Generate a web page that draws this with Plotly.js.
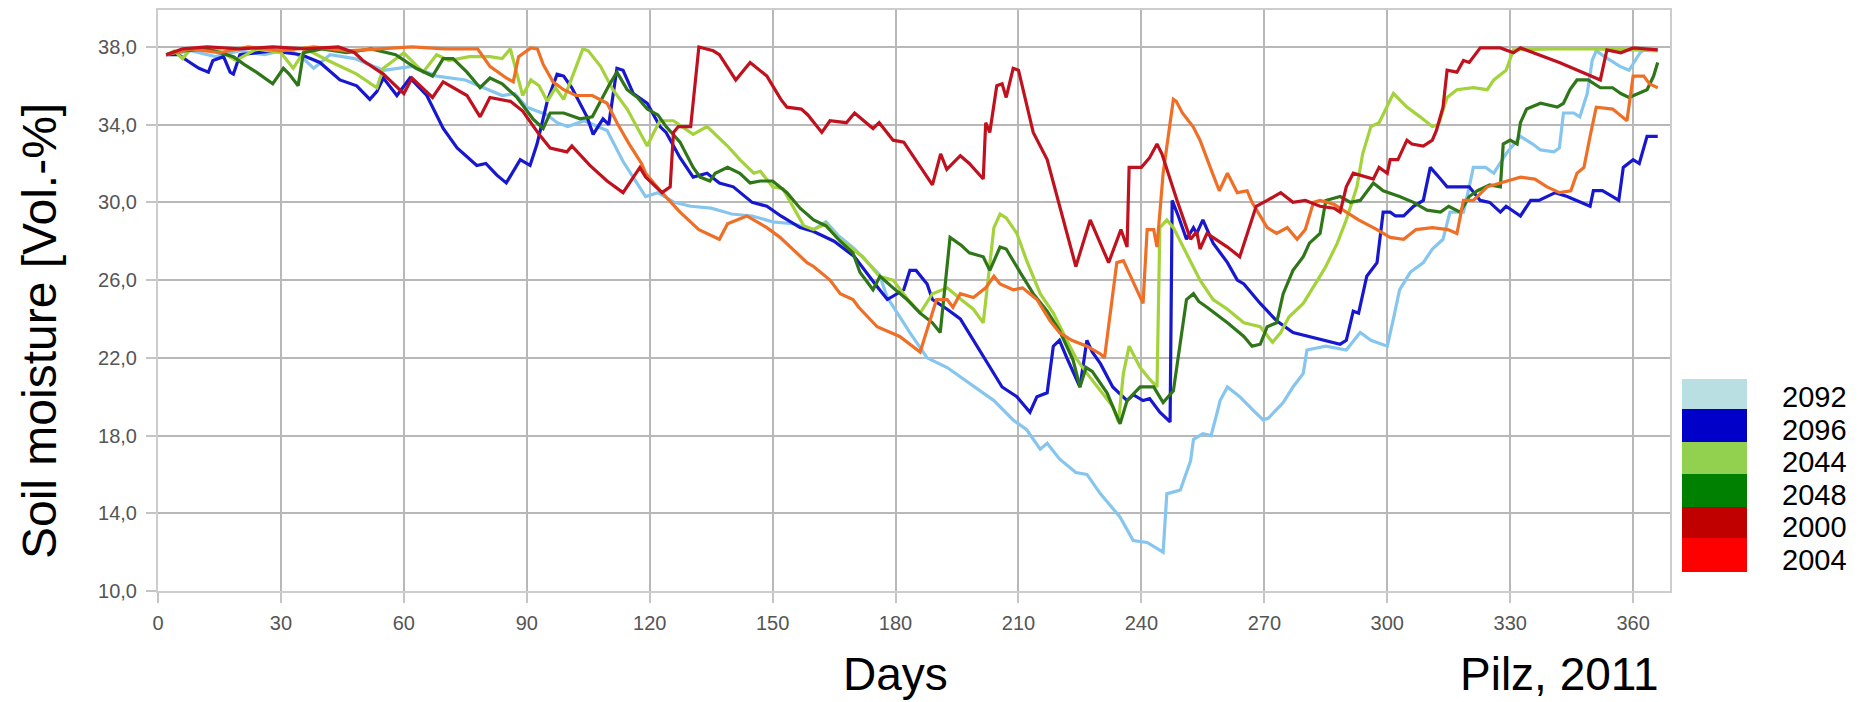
<!DOCTYPE html>
<html>
<head>
<meta charset="utf-8">
<script src="https://cdn.plot.ly/plotly-3.0.1.min.js"></script>
<style>html,body{margin:0;padding:0;background:#fff;}#chart{width:1872px;height:702px;}</style>
</head>
<body>
<div id="chart"></div>
<script>
// ---------- DATA ----------
const seriesNames = ['2092', '2096', '2044', '2048', '2000', '2004'];
const xTickVals = [0, 30, 60, 90, 120, 150, 180, 210, 240, 270, 300, 330, 360];
const yTickVals = [10, 14, 18, 22, 26, 30, 34, 38];

const days2092 = [2,8,14,20,26,32,36,38,42,48,55,62,68,75,84,87,90,95,97.4,100,104,109.6,113.5,117.6,119,122,126,130,135,140,145,150,155,160,163,166,170,176,178,183.5,187.7,192.6,198,204,208.7,212,215.3,217,220,224,226.7,230,234.8,238,241.4,243,245.3,246.2,249.5,252,252.7,255,257,258.5,259.2,261,264,267.3,269.7,271,274.6,277,279.5,280.4,285,290,292,293.4,296,300,301.5,303,305.6,308.8,311,313.6,315.3,318.6,320,321,324,326,329,332.5,335.5,337.4,340.7,342,343,345.5,347,348.8,350,351,353,356.8,359,361.7,363,366];
const sm2092 = [37.6,37.8,37.5,37.8,37.6,37.9,37.3,36.9,37.6,37.4,36.8,37.0,36.5,36.3,35.5,35.6,34.9,34.5,34.1,33.9,34.2,33.7,32.1,30.8,30.3,30.5,30.0,29.8,29.7,29.4,29.3,29.0,28.9,28.6,29.0,28.3,27.6,26.3,25.1,23.3,22.0,21.5,20.7,19.8,18.8,18.3,17.3,17.6,16.8,16.1,16.0,15.0,13.8,12.6,12.5,12.3,12.0,15.0,15.2,16.7,17.8,18.1,18.0,19.2,19.8,20.5,20.0,19.3,18.8,18.9,19.7,20.5,21.2,22.4,22.6,22.4,22.9,23.3,22.9,22.6,24.0,25.5,26.4,26.9,27.6,28.1,29.5,29.5,30.8,31.8,31.8,31.5,32.5,33.4,33.0,32.7,32.6,32.8,34.6,34.6,34.4,35.6,37.3,37.8,37.5,37.0,36.8,37.7,37.9,37.9];

const days2096 = [2,5,7.8,10,12.3,13.4,16,17.6,18.4,20,28,35,39.5,44.4,48.5,51.7,53.4,55,58.3,61.5,65.6,69.6,73,77.8,80,82.7,85,88.4,90.8,92.5,95,97.4,99,101,104.7,106.2,108.6,110,112,113.5,116,119.4,122.5,124,127.4,130.6,134,137,140.4,145,148.6,152,156.7,160,165,170,175,178,182,183.5,185,187.7,189,192.6,195.8,199,202,206,209.6,212.8,214.5,217,218.5,220,221.8,225,226.7,228,230,233,236.5,238,240.4,242,244.5,247,247.5,249,251,252.7,253.5,255,257.5,261,263.4,265,269,273,277,281,285,288.5,290,291.7,293,295,297.5,299,300.7,302,304,306.4,308.8,310.5,313,314.6,317.8,320,322.7,325,327.6,329,332.5,335,337,339,341,343.9,346.3,349.5,350.3,352.5,355,356.5,357.6,360,361.5,363.4,366];
const sm2096 = [37.6,37.6,37.2,36.9,36.7,37.3,37.5,36.7,36.6,37.6,37.8,37.6,37.2,36.3,36.0,35.3,35.7,36.4,35.5,36.4,35.5,33.8,32.8,31.9,32.0,31.4,31.0,32.2,31.9,33.0,35.2,36.6,36.5,35.9,34.4,33.5,34.3,34.0,36.9,36.8,35.6,35.1,33.9,33.6,32.3,31.3,31.5,31.0,30.8,30.0,29.8,29.3,28.7,28.5,28.0,27.2,25.8,25.0,25.5,26.5,26.5,25.8,25.0,24.5,24.0,22.9,21.9,20.5,20.0,19.2,20.0,20.2,22.6,22.9,22.0,20.5,22.9,22.3,21.7,20.5,19.8,20.1,19.8,19.9,19.2,18.7,30.1,29.3,28.1,28.7,28.4,29.1,27.9,26.9,26.0,25.8,24.8,23.9,23.3,23.1,22.9,22.7,22.9,24.4,24.3,26.2,26.9,29.5,29.5,29.3,29.3,29.8,30.1,31.8,31.2,30.8,30.8,30.8,30.1,30.0,29.5,29.8,29.3,30.1,30.1,30.3,30.5,30.3,30.1,29.8,30.6,30.6,30.3,30.1,31.8,32.2,32.0,33.4,33.4];

const days2044 = [2,4,6,8,15,19,24,30,33,36,41.5,43.6,48.5,53.4,55,60,64.7,68,71,76,81,84,86,89,91,93,95,97,99,103.7,105,108,111,114.5,117.6,119.4,121,122.5,125.8,129,130.6,134,139,142,145.4,147,150,152.5,155,157.6,160,163,165.6,169.6,172,176,179.4,183,186,189,192.6,196,199,201.4,203,204,205.5,207,209.6,212,215.3,218.5,221.8,224,226.7,230,233,234.4,235.6,237,239.7,242,243.8,244.5,246.2,247.8,251,254.3,257.5,261,265,269,272,274,276,279.5,283,285,287.8,290,292.6,294,296,298,301.5,304.8,308,311,312.5,314.6,317,321,324.4,326,329,330.8,340,350,360,366];
const sm2044 = [37.6,37.8,37.4,37.9,37.8,37.3,37.9,37.7,36.9,37.9,37.3,37.1,36.6,35.9,36.9,37.7,36.7,37.6,37.3,37.5,37.5,37.4,37.9,35.5,36.3,36.0,35.2,35.9,35.3,37.9,37.8,37.0,35.8,34.8,33.6,32.9,33.6,34.2,34.2,33.7,33.5,33.9,32.9,32.2,31.5,31.6,30.8,30.7,29.8,28.8,28.6,28.9,28.2,27.6,27.2,26.2,26.0,25.0,24.3,25.3,25.6,25.0,24.5,23.8,26.7,28.7,29.4,29.2,28.4,27.0,25.3,24.3,22.9,22.0,21.2,20.3,19.5,18.7,21.2,22.6,21.5,20.9,20.5,28.7,29.1,28.7,27.4,26.0,25.0,24.5,23.8,23.6,22.8,23.3,24.1,24.8,26.0,26.7,27.9,29.1,30.8,32.5,33.9,34.1,35.6,34.9,34.4,33.9,34.0,35.4,35.8,35.9,35.8,36.3,36.8,37.85,37.9,37.9,37.85,37.8];

const days2048 = [2,6,12,18.4,21,24,28,30.6,32,34.2,35.5,40,46,52,58,63,67,69.6,72,75.4,78.6,81,84,87.6,91.5,94,95.7,99,103,106,110,112,114.5,117,119.4,122,124,127.4,130.6,132.3,134.7,136,139,142,144.5,147,150,153.5,156.7,160,163,166.5,169.6,171.3,174.5,176.2,179.4,182.8,186,189,190.9,193.3,196,198,201.4,203,205.5,207,210.4,213.6,217,220,223.3,225,226.5,228,231.6,234.8,236.5,239.7,243,245.3,247.8,249.5,251,252.7,254,256,261,265,267,269,270.7,273,274.6,277,279.5,281,283.6,285,288.5,291,293.4,296.6,299,303,306.4,309.7,313,315,317.8,320,322,325,327.6,328.3,330,331.7,332.5,334,337.4,341.5,343,344.6,346.3,349,352,355,357,359,361,363.4,365,366];
const sm2048 = [37.6,37.8,37.9,37.5,37.1,36.7,36.1,36.9,36.6,36.0,37.7,37.9,37.7,37.9,37.6,36.9,36.5,37.4,37.4,36.7,35.9,36.4,36.1,35.4,34.3,33.8,34.6,34.6,34.3,34.4,36.0,36.7,35.8,35.4,34.8,34.5,33.9,33.1,31.8,31.3,31.1,31.5,31.8,31.5,31.0,31.1,31.1,30.5,29.7,29.1,28.8,28.0,27.4,26.4,25.5,26.2,25.6,25.0,24.3,23.8,23.3,28.2,27.8,27.4,27.2,26.5,27.7,27.6,26.4,25.3,24.4,23.4,21.9,20.5,21.5,21.3,20.2,18.6,19.8,20.5,20.5,19.7,20.3,22.9,25.0,25.3,24.9,24.6,23.8,23.1,22.6,22.7,23.6,23.8,25.3,26.5,27.2,27.9,28.4,30.1,30.3,30.0,30.1,31.0,30.6,30.3,30.0,29.6,29.5,29.8,29.5,30.3,30.6,30.9,30.8,33.0,33.2,33.0,34.1,34.8,35.1,34.9,35.1,35.8,36.3,36.3,35.9,35.9,35.6,35.4,35.6,35.8,36.5,37.2];

const days2000 = [2,6,12,20,28,36,44,48,50,55,60,62,67,69.6,75.4,78.6,81,86,89,93,95.7,99.8,101,105.4,109.6,112,113.5,117.6,119,123,125,125.8,127,130,132,135.5,137,141,144.5,148.6,152,153.5,157,158.6,162,164,168,170,174.5,176,179.4,182,189,191,192.5,195.8,198,201.4,202,203,204.7,206,207,208.7,210,213.6,217,224,227.5,232,235,236.5,237,240,242,243.8,245,248.7,252,253.5,254.3,256,261,264,265.8,268,270.7,274,277,280,283.6,287,288.5,290,291.7,295,296.6,298,300,300.7,302.6,304.8,306,308.8,311,312,313.6,314.6,317,318.6,320,322.7,327.6,330.8,332.5,342,352,353.6,357,360,366];
const sm2000 = [37.6,37.9,38.0,37.9,38.0,37.9,38.0,37.7,37.3,36.6,35.6,36.4,35.4,36.2,35.5,34.4,35.4,35.2,34.7,33.5,32.8,32.6,32.9,31.9,31.1,30.7,30.5,31.8,31.3,30.5,30.8,33.6,33.9,33.9,38.0,37.8,37.6,36.3,37.2,36.5,35.3,34.9,34.8,34.5,33.6,34.2,34.1,34.6,33.8,34.1,33.2,33.1,30.9,32.5,31.7,32.4,32.0,31.2,34.1,33.6,36.0,36.1,35.4,36.9,36.8,33.6,32.2,26.7,29.1,26.9,28.6,27.7,31.8,31.8,32.3,33.0,32.5,30.1,28.1,28.5,27.6,28.4,27.7,27.2,28.4,29.8,30.1,30.5,30.0,30.1,29.8,29.7,29.5,30.8,31.5,31.3,31.2,31.8,31.5,32.2,32.2,33.2,33.0,32.9,33.2,33.7,34.9,36.8,36.7,37.3,37.2,37.95,37.95,37.7,37.95,37.2,36.3,37.85,37.7,37.95,37.85];

const days2004 = [2,8,15,22,30,38,46,54,62,70,78,81,85,86.7,88,91,92.6,94,96.4,99,102,106,109.6,112,115,118,119,123,127.4,132,137,139,143.7,148.6,151.8,158.4,160,164,166.5,169.6,171,175.5,181,186,190,192.6,194,195.8,199,202,204,205.5,208.7,211,214.5,217.7,220,223,226.7,230,231,234,235.6,240.4,241.4,243,243.8,245.3,247.8,248.5,250,252.6,254.3,256.8,259,261,263.4,265.8,267,270.7,273,275.6,278,280,282,283.6,287,290,293,297.5,300.7,304,307,311,314.8,317,318.6,321,324.4,327.6,332.5,336,339,342,344.8,346.3,348,349.5,351,355,358.5,360,362.6,364,366];
const sm2004 = [37.6,37.9,37.7,38.0,37.8,38.0,37.8,37.9,38.0,37.9,37.9,37.0,36.4,36.2,37.5,37.95,37.9,37.1,36.2,35.8,35.5,35.5,35.1,34.1,33.0,32.0,31.5,30.5,29.5,28.6,28.1,28.9,29.3,28.7,28.2,26.9,26.7,26.0,25.3,25.0,24.6,23.6,23.1,22.3,25.0,25.0,24.6,25.3,25.1,25.6,26.2,25.8,25.5,25.6,25.0,23.9,23.3,22.9,22.6,22.2,22.0,26.9,27.0,24.8,28.6,28.6,27.7,31.5,35.3,35.2,34.6,33.9,33.2,31.8,30.6,31.5,30.5,30.6,30.0,28.7,28.4,28.7,28.1,28.6,30.0,30.1,29.9,29.5,29.1,28.6,28.2,28.1,28.6,28.7,28.6,28.4,30.1,30.1,30.8,31.0,31.3,31.2,30.8,30.5,30.6,31.5,31.8,33.4,34.9,34.8,34.2,36.5,36.5,36.1,35.9];

// ---------- STYLE ----------
const lineColors = {'2092':'#86c6ee','2096':'#1717cf','2044':'#a3d23a','2048':'#2e7618','2000':'#c0121e','2004':'#ef6f27'};
const legendColors = {'2092':'#b9dfe3','2096':'#0000c8','2044':'#92d050','2048':'#008000','2000':'#c00000','2004':'#ff0000'};
const seriesData = {
  '2092':[days2092, sm2092], '2096':[days2096, sm2096], '2044':[days2044, sm2044],
  '2048':[days2048, sm2048], '2000':[days2000, sm2000], '2004':[days2004, sm2004]
};
const drawOrder = ['2092','2096','2044','2048','2004','2000'];

const traces = drawOrder.map(n => ({
  type: 'scatter', mode: 'lines', name: n,
  x: seriesData[n][0], y: seriesData[n][1],
  line: {color: lineColors[n], width: 3.2},
  showlegend: false, hoverinfo: 'skip'
}));

// plot area in pixels
const L = 158, R = 1670, T = 10, B = 591;
const px2x = p => (p - L) / (R - L);
const py2y = p => (B - p) / (B - T);
const FONT = 'Liberation Sans, Arial, sans-serif';

const shapes = [];
const annotations = [];
// legend swatches / labels (right side)
const swatchEdges = [379, 409, 442, 474, 507, 538, 572];
const labelTop = 397, labelStep = 32.6;
seriesNames.forEach((n, i) => {
  shapes.push({type:'rect', xref:'paper', yref:'paper',
    x0: px2x(1682), x1: px2x(1747), y0: py2y(swatchEdges[i+1]), y1: py2y(swatchEdges[i]),
    fillcolor: legendColors[n], line: {width: 0}});
  annotations.push({xref:'paper', yref:'paper', x: px2x(1781), y: py2y(labelTop + i * labelStep),
    xanchor:'left', yanchor:'middle', showarrow:false, text:n, borderpad:0,
    font:{family:FONT, size:29, color:'#000'}});
});
annotations.push({xref:'paper', yref:'paper', x: px2x(842), y: py2y(674), xanchor:'left', yanchor:'middle',
  showarrow:false, text:'Days', borderpad:0, font:{family:FONT, size:46, color:'#000'}});
annotations.push({xref:'paper', yref:'paper', x: px2x(1459), y: py2y(674), xanchor:'left', yanchor:'middle',
  showarrow:false, text:'Pilz, 2011', borderpad:0, font:{family:FONT, size:46, color:'#000'}});
annotations.push({xref:'paper', yref:'paper', x: px2x(40), y: py2y(331), xanchor:'center', yanchor:'middle',
  textangle:-90, showarrow:false, text:'Soil moisture [Vol.-%]', borderpad:0,
  font:{family:FONT, size:48, color:'#000'}});

const axisCommon = {
  showgrid: true, gridcolor: '#b8b8b8', gridwidth: 2,
  ticks: 'outside', ticklen: 10, tickwidth: 2, tickcolor: '#c4c4c4',
  showline: true, mirror: true, linecolor: '#cdcdcd', linewidth: 2,
  zeroline: false, fixedrange: true,
  tickfont: {family: FONT, size: 20, color: '#555'}
};

const layout = {
  width: 1872, height: 702,
  margin: {l: L, r: 1872 - R, t: T, b: 702 - B, pad: 0},
  paper_bgcolor: '#fff', plot_bgcolor: '#fff',
  separators: ',.',
  showlegend: false,
  xaxis: Object.assign({}, axisCommon, {range: [0, 369], tickvals: xTickVals, ticktext: xTickVals.map(String), ticklabelstandoff: 3}),
  yaxis: Object.assign({}, axisCommon, {range: [10, 39.9], tickvals: yTickVals, tickformat: '.1f', ticklabelstandoff: 5}),
  shapes: shapes,
  annotations: annotations
};

Plotly.newPlot('chart', traces, layout, {displayModeBar: false, staticPlot: true});
</script>
</body>
</html>
